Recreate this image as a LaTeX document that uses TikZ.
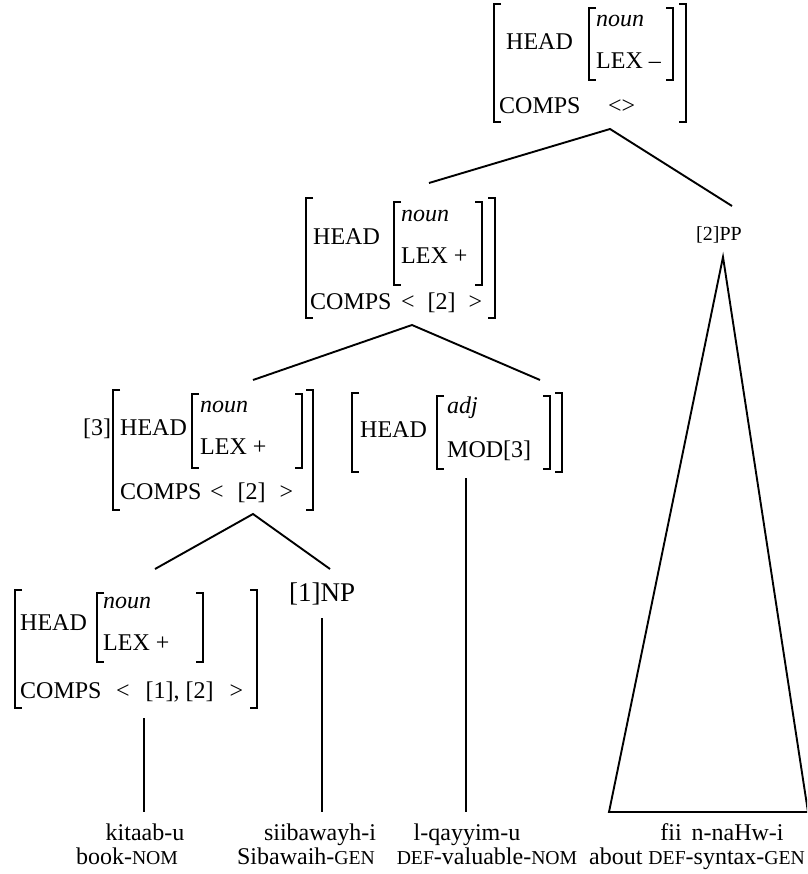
\documentclass[tikz,border=0pt]{standalone}
\usepackage{fontspec}
\setmainfont{Liberation Serif}
\newcommand\avmL[3]{\draw[brk] ({#1+7},#2) -- (#1,#2) -- (#1,#3) -- ({#1+7},#3);}
\newcommand\avmR[3]{\draw[brk] ({#1-7},#2) -- (#1,#2) -- (#1,#3) -- ({#1-7},#3);}
\newcommand\avmB[4]{\avmL{#1}{#3}{#4}\avmR{#2}{#3}{#4}}
\newcommand\smc[1]{{\fontsize{19.7}{22}\selectfont #1}}
\begin{document}
\begin{tikzpicture}[x=1pt,y=-1pt,
  tx/.style={inner sep=0pt,anchor=base west,font=\fontsize{24}{28}\selectfont},
  wd/.style={inner sep=0pt,anchor=base,font=\fontsize{24}{28}\selectfont},
  brk/.style={line width=1.5pt},
  edge/.style={line width=1.9pt}]
\useasboundingbox (0,0) rectangle (807,874);
\clip (0,0) rectangle (807,874);

% ---------- AVM 1 (top)
\avmB{494}{686}{4}{122}
\avmB{589}{673}{8}{80}
\node[tx] (h1) at (506,50) {HEAD};
\node[tx] (n1) at (596,27) {\itshape noun};
\node[tx] (l1) at (596,69) {LEX –};
\node[tx] (c1) at (499,114) {COMPS};
\node[tx] (v1) at (608,114) {<>};
\coordinate (a1) at (610,129);

% ---------- AVM 2
\avmB{306}{495}{198}{318}
\avmB{394}{482}{202}{285}
\node[tx] (h2) at (313,245) {HEAD};
\node[tx] (n2) at (401,222) {\itshape noun};
\node[tx] (l2) at (401,264) {LEX +};
\node[tx] (c2) at (310,309) {COMPS};
\node[tx] (v2) at (401,309) {<\hspace{13pt}[2]\hspace{13pt}>};
\coordinate (a2t) at (429,183);
\coordinate (a2) at (412,325);

% ---------- [2]PP
\node[inner sep=0pt,anchor=base west,font=\fontsize{20}{24}\selectfont] (pp) at (696,241) {[2]PP};
\coordinate (ppt) at (732,206);
\coordinate (tA) at (723,257);
\coordinate (tL) at (609,812);
\coordinate (tR) at (808,812);

% ---------- AVM 3 ([3])
\node[tx] (tag3) at (83,435) {[3]};
\avmB{113}{313}{390}{510}
\avmB{192}{302}{394}{468}
\node[tx] (h3) at (120,435) {HEAD};
\node[tx] (n3) at (200,412) {\itshape noun};
\node[tx] (l3) at (200,454) {LEX +};
\node[tx] (c3) at (120,499) {COMPS};
\node[tx] (v3) at (210,499) {<\hspace{14pt}[2]\hspace{14pt}>};
\coordinate (a3t) at (253,380);
\coordinate (a3) at (253,514);

% ---------- AVM 4 (adj)
\avmB{352}{562}{393}{472}
\avmB{437}{550}{396}{469}
\node[tx] (h4) at (360,437) {HEAD};
\node[tx] (n4) at (447,413) {\itshape adj};
\node[tx] (m4) at (447,457) {MOD[3]};
\coordinate (a4t) at (540,380);
\coordinate (a4) at (466,478);

% ---------- AVM 5 (leaf)
\avmB{15}{257}{590}{708}
\avmB{97}{203}{593}{662}
\node[tx] (h5) at (20,630) {HEAD};
\node[tx] (n5) at (103,608) {\itshape noun};
\node[tx] (l5) at (103,650) {LEX +};
\node[tx] (c5) at (20,698) {COMPS};
\node[tx] (v5) at (116,698) {<\hspace{16pt}[1],\hspace{6pt}[2]\hspace{16pt}>};
\coordinate (a5t) at (155,569);
\coordinate (a5) at (144,718);

% ---------- [1]NP
\node[inner sep=0pt,anchor=base west,font=\fontsize{27}{31}\selectfont] (np) at (289,601) {[1]NP};
\coordinate (npt) at (330,569);
\coordinate (np1) at (322,618);

% ---------- word row
\node[wd] (w1) at (145,840) {kitaab-u};
\node[wd] (g1) at (127,864) {book-\smc{NOM}};
\node[wd] (w2) at (320,840) {siibawayh-i};
\node[wd] (g2) at (306,864) {Sibawaih-\smc{GEN}};
\node[wd] (w3) at (467,840) {l-qayyim-u};
\node[wd] (g3) at (487,864) {\smc{DEF}-valuable-\smc{NOM}};
\node[wd] (w4) at (722,840) {fii\hspace{10pt}n-naHw-i};
\node[wd] (g4) at (697,864) {about \smc{DEF}-syntax-\smc{GEN}};
\coordinate (b1) at (144,812);
\coordinate (b2) at (322,812);
\coordinate (b3) at (466,812);

% ---------- edges
\draw[edge] (a2t) -- (a1) -- (ppt);
\draw[edge] (a3t) -- (a2) -- (a4t);
\draw[edge] (a5t) -- (a3) -- (npt);
\draw[edge] (a5) -- (b1);
\draw[edge] (np1) -- (b2);
\draw[edge] (a4) -- (b3);
\draw[edge,line join=miter] (tA) -- (tL) -- (tR) -- cycle;
\end{tikzpicture}
\end{document}
